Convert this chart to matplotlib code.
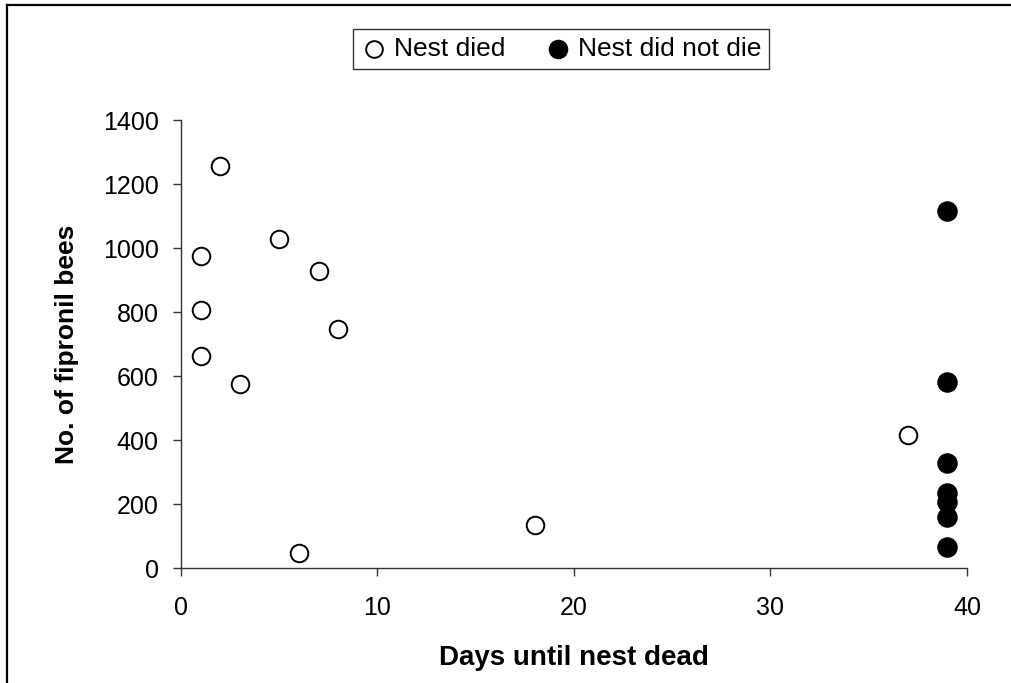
import matplotlib
matplotlib.use("Agg")
import matplotlib.pyplot as plt
from matplotlib.lines import Line2D

plt.rcParams['font.family'] = ['Liberation Sans', 'DejaVu Sans']

# Data
died_days = [1, 1, 1, 2, 3, 5, 6, 7, 8, 18, 37]
died_bees = [975, 805, 663, 1256, 575, 1028, 48, 928, 746, 134, 416]
alive_days = [39, 39, 39, 39, 39, 39, 39]
alive_bees = [1115, 582, 327, 233, 205, 160, 65]
xticks = [0, 10, 20, 30, 40]
yticks = [0, 200, 400, 600, 800, 1000, 1200, 1400]

W, H = 1012, 683
fig = plt.figure(figsize=(W / 100, H / 100), dpi=100)
ax = fig.add_axes([181 / W, 1 - 568 / H, (967 - 181) / W, (568 - 120) / H])

ax.scatter(died_days, died_bees, s=160, facecolors='white', edgecolors='black',
           linewidths=1.4, label='Nest died', zorder=3, clip_on=False)
ax.scatter(alive_days, alive_bees, s=190, facecolors='black', edgecolors='black',
           linewidths=1.0, label='Nest did not die', zorder=3, clip_on=False)

ax.set_xlim(0, 40)
ax.set_ylim(0, 1400)
ax.set_xticks(xticks)
ax.set_yticks(yticks)
ax.spines['top'].set_visible(False)
ax.spines['right'].set_visible(False)
for sp in ('left', 'bottom'):
    ax.spines[sp].set_color('#333333')
    ax.spines[sp].set_linewidth(1.0)
ax.tick_params(axis='both', direction='out', length=6, width=1.0, color='#333333',
               labelsize=18)
ax.tick_params(axis='x', pad=14)
ax.tick_params(axis='y', pad=10)

ax.set_xlabel('Days until nest dead', fontsize=20, fontweight='bold', labelpad=18)
ax.set_ylabel('No. of fipronil bees', fontsize=19, fontweight='bold', labelpad=17)

leg = fig.legend(loc='center', bbox_to_anchor=((349 + 773) / 2 / W, 1 - 49 / H),
                 ncol=2, fontsize=19, frameon=True, fancybox=False,
                 handletextpad=0.25, columnspacing=1.5, borderpad=0.3,
                 handlelength=1.0, markerscale=0.95)
leg.get_frame().set_edgecolor('black')
leg.get_frame().set_linewidth(1.0)

# figure border (left and top visible)
fig.add_artist(Line2D([7 / W, 7 / W], [0, 1 - 5 / H], transform=fig.transFigure,
                      color='black', linewidth=1.6))
fig.add_artist(Line2D([7 / W, 1], [1 - 5 / H, 1 - 5 / H], transform=fig.transFigure,
                      color='black', linewidth=1.6))

fig.savefig('out.png', dpi=100)
